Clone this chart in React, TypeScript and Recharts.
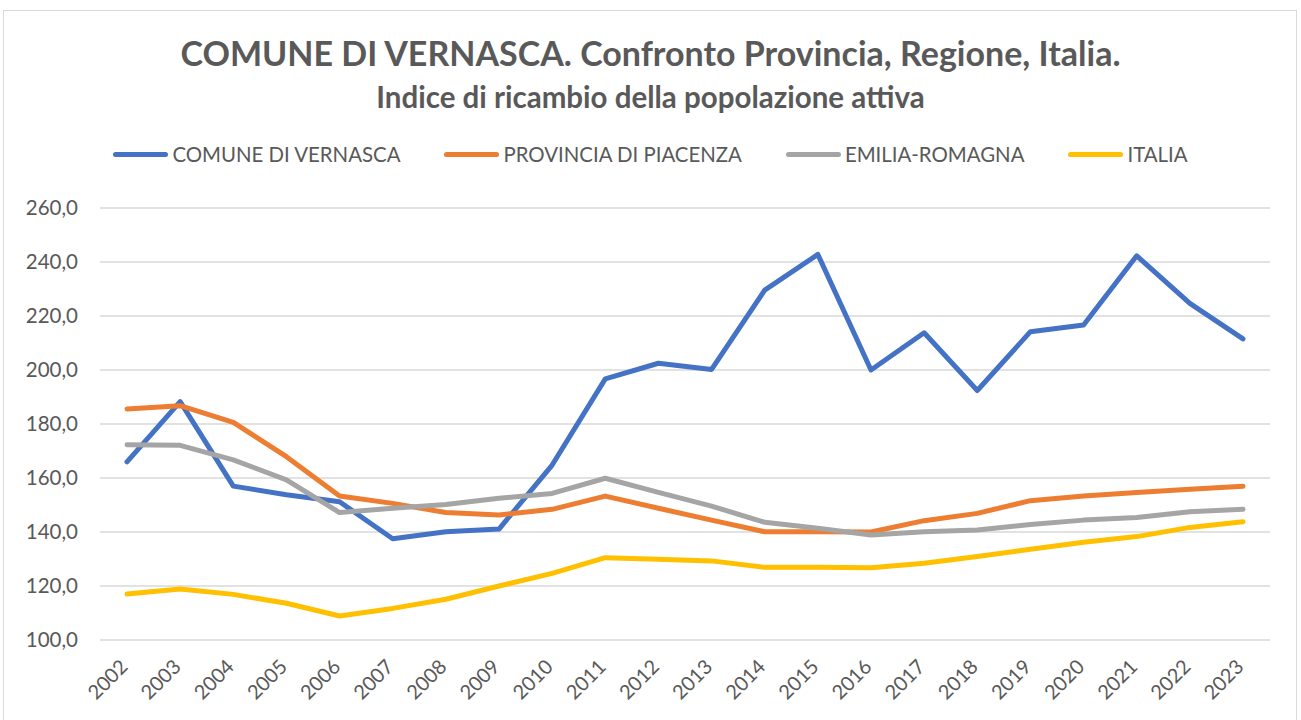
import React from 'react';
import { LineChart, Line, XAxis, YAxis, CartesianGrid, Legend } from 'recharts';

const YEARS = ['2002', '2003', '2004', '2005', '2006', '2007', '2008', '2009', '2010', '2011', '2012',
  '2013', '2014', '2015', '2016', '2017', '2018', '2019', '2020', '2021', '2022', '2023'];

const VERNASCA = [166.0, 188.3, 157.0, 153.8, 151.2, 137.5, 140.1, 141.1, 164.8, 196.7, 202.5,
  200.2, 229.6, 242.8, 200.0, 213.8, 192.4, 214.2, 216.7, 242.3, 224.7, 211.5];
const PIACENZA = [185.6, 186.8, 180.6, 167.9, 153.3, 150.6, 147.2, 146.3, 148.4, 153.3, 148.8,
  144.4, 140.1, 140.1, 140.0, 144.2, 146.9, 151.6, 153.3, 154.6, 155.8, 156.9];
const EMILIA = [172.3, 172.1, 166.7, 159.3, 147.2, 148.8, 150.2, 152.5, 154.3, 159.9, 154.7,
  149.6, 143.6, 141.4, 138.9, 140.1, 140.7, 142.8, 144.4, 145.4, 147.5, 148.4];
const ITALIA = [117.0, 118.9, 116.9, 113.6, 108.9, 111.7, 115.1, 120.0, 124.7, 130.5, 129.9,
  129.3, 126.9, 126.9, 126.8, 128.4, 130.9, 133.6, 136.2, 138.3, 141.7, 143.8];

const Y_TICKS = [100, 120, 140, 160, 180, 200, 220, 240, 260];

const SERIES = [
  { key: 'vernasca', name: 'COMUNE DI VERNASCA', color: '#4472C4' },
  { key: 'piacenza', name: 'PROVINCIA DI PIACENZA', color: '#ED7D31' },
  { key: 'emilia', name: 'EMILIA-ROMAGNA', color: '#A5A5A5' },
  { key: 'italia', name: 'ITALIA', color: '#FFC000' },
];

const data = YEARS.map((year, i) => ({
  year,
  vernasca: VERNASCA[i],
  piacenza: PIACENZA[i],
  emilia: EMILIA[i],
  italia: ITALIA[i],
}));

const FONT = 'Lato, "Open Sans", sans-serif';
const TEXT = '#595959';

const ChartLegend = () => (
  <div style={{ display: 'flex', justifyContent: 'center', gap: 44, fontFamily: FONT, fontSize: 20.4, color: TEXT }}>
    {SERIES.map(s => (
      <div key={s.key} style={{ display: 'flex', alignItems: 'center' }}>
        <span style={{ display: 'inline-block', width: 55, height: 5, borderRadius: 3, background: s.color, marginRight: 4 }} />
        <span>{s.name}</span>
      </div>
    ))}
  </div>
);

export default function App() {
  return (
    <div style={{ position: 'relative', width: 1301, height: 720, overflow: 'hidden', background: '#fff' }}>
      <style>{'body{margin:0;overflow:hidden}'}</style>
      <div style={{ position: 'absolute', left: 3, top: 10, width: 1294, height: 760, border: '1.5px solid #d9d9d9', boxSizing: 'border-box' }} />
      <div style={{ position: 'absolute', left: 0, top: 33, width: 1301, textAlign: 'center', fontFamily: FONT, fontWeight: 700, fontSize: 34, color: TEXT, lineHeight: '40px' }}>
        COMUNE DI VERNASCA. Confronto Provincia, Regione, Italia.
      </div>
      <div style={{ position: 'absolute', left: 0, top: 80, width: 1301, textAlign: 'center', fontFamily: FONT, fontWeight: 700, fontSize: 29.5, color: TEXT, lineHeight: '34px' }}>
        Indice di ricambio della popolazione attiva
      </div>
      <div style={{ position: 'absolute', left: 0, top: 0 }}>
        <LineChart width={1301} height={720} data={data} margin={{ top: 208, right: 31, bottom: 0, left: 20 }}>
          <CartesianGrid horizontal vertical={false} stroke="#d9d9d9" strokeWidth={1.5} />
          <XAxis
            dataKey="year"
            interval={0}
            height={80}
            axisLine={false}
            tickLine={false}
            padding={{ left: 27, right: 27 }}
            angle={-45}
            textAnchor="end"
            tickMargin={12}
            dx={-8}
            tick={{ fill: TEXT, fontSize: 20, fontFamily: FONT }}
          />
          <YAxis
            domain={[100, 260]}
            ticks={Y_TICKS}
            width={80}
            axisLine={false}
            tickLine={false}
            tickMargin={16}
            tickFormatter={(v: number) => v.toFixed(1).replace('.', ',')}
            tick={{ fill: TEXT, fontSize: 20.5, fontFamily: FONT }}
          />
          <Legend
            layout="horizontal"
            verticalAlign="middle"
            align="center"
            content={<ChartLegend />}
            wrapperStyle={{ top: 142, left: 0, width: 1301 }}
          />
          {SERIES.map(s => (
            <Line
              key={s.key}
              type="linear"
              dataKey={s.key}
              name={s.name}
              stroke={s.color}
              strokeWidth={5}
              strokeLinecap="round"
              strokeLinejoin="round"
              dot={false}
              activeDot={false}
              isAnimationActive={false}
            />
          ))}
        </LineChart>
      </div>
    </div>
  );
}
